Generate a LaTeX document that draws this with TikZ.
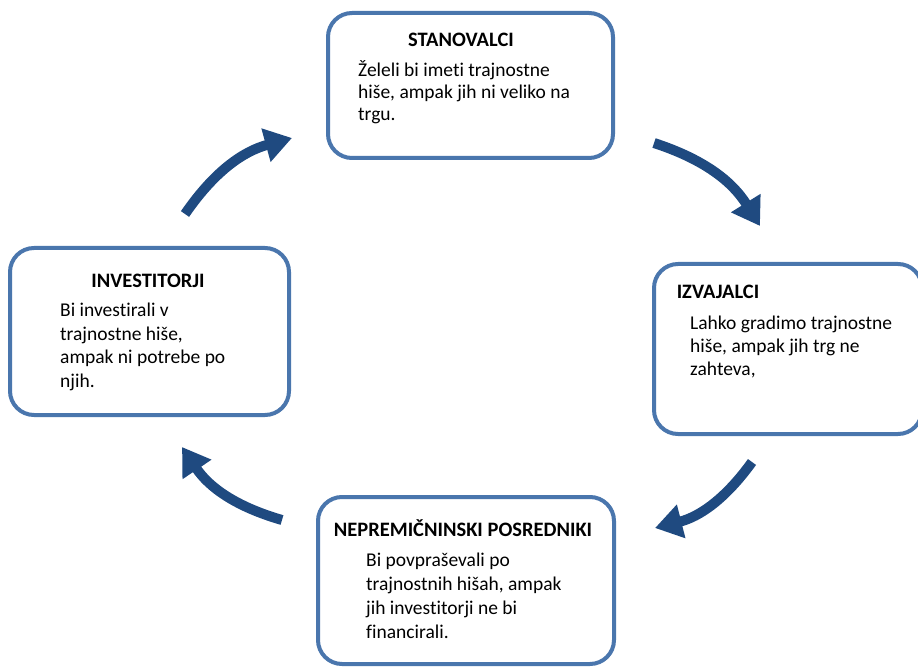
\documentclass[tikz,border=0pt]{standalone}
\usepackage{fontspec}
\setmainfont{Carlito}[Ligatures=NoCommon]
\usepackage{xcolor}
\usepackage{tikz}
\usetikzlibrary{arrows.meta,positioning}

\definecolor{boxblue}{HTML}{4A76AD}
\definecolor{arrowblue}{HTML}{1F4A80}

\begin{document}
\begin{tikzpicture}[
  x=1pt, y=-1pt,
  every node/.style={font=\fontsize{19.5}{23.5}\selectfont},
  box/.style={rectangle, draw=boxblue, line width=4pt, rounded corners=24pt, fill=white},
  title/.style={font=\fontsize{20.5}{24}\selectfont\bfseries, inner sep=0pt},
  body/.style={align=left, anchor=north west, inner sep=0pt},
  flow/.style={-{Triangle[length=27pt,width=33pt]}, line width=10pt, color=arrowblue},
]
\useasboundingbox (0,0) rectangle (918,668);
\clip (0,0) rectangle (918,668);

% ========= Boxes =========
\node[box, minimum width=285pt, minimum height=145pt] at (470.5, 85.5) (stan) {};
\node[box, minimum width=279pt, minimum height=167pt] at (149.5, 331.5) (inv) {};
\node[box, minimum width=268pt, minimum height=170pt] at (788, 349) (izv) {};
\node[box, minimum width=296pt, minimum height=167pt] at (466, 580.5) (nep) {};

% ========= Titles =========
\node[title] at (461, 40) (stan-t) {STANOVALCI};
\node[title] at (148, 281) (inv-t) {INVESTITORJI};
\node[title] at (718, 292) (izv-t) {IZVAJALCI};
\node[title] at (463, 528) (nep-t) {NEPREMIČNINSKI POSREDNIKI};

% ========= Texts =========
\node[body, font=\fontsize{19.5}{22}\selectfont] at (358, 60) (stan-b)
  {Želeli bi imeti trajnostne\\hiše, ampak jih ni veliko na\\trgu.};
\node[body] at (60, 303) (inv-b) {Bi investirali v\\trajnostne hiše,\\ampak ni potrebe po\\njih.};
\node[body, font=\fontsize{19.5}{23}\selectfont] at (690, 315.5) (izv-b)
  {Lahko gradimo trajnostne\\hiše, ampak jih trg ne\\zahteva,};
\node[body, font=\fontsize{19.5}{24}\selectfont] at (366, 552.5) (nep-b)
  {Bi povpraševali po\\trajnostnih hišah, ampak\\jih investitorji ne bi\\financirali.};

% ========= Arrow ends =========
\coordinate (a1s) at (185, 214);
\coordinate (a1e) at (292, 138);
\coordinate (a2s) at (654, 143);
\coordinate (a2e) at (760, 226);
\coordinate (a3s) at (752, 462);
\coordinate (a3e) at (655, 528);
\coordinate (a4s) at (282, 520);
\coordinate (a4e) at (182, 447);

% ========= Cycle arrows =========
\draw[flow] (a1s) to[bend left=20] (a1e);
\draw[flow] (a2s) to[bend left=20] (a2e);
\draw[flow] (a3s) to[bend left=20] (a3e);
\draw[flow] (a4s) to[bend left=20] (a4e);

\end{tikzpicture}
\end{document}
